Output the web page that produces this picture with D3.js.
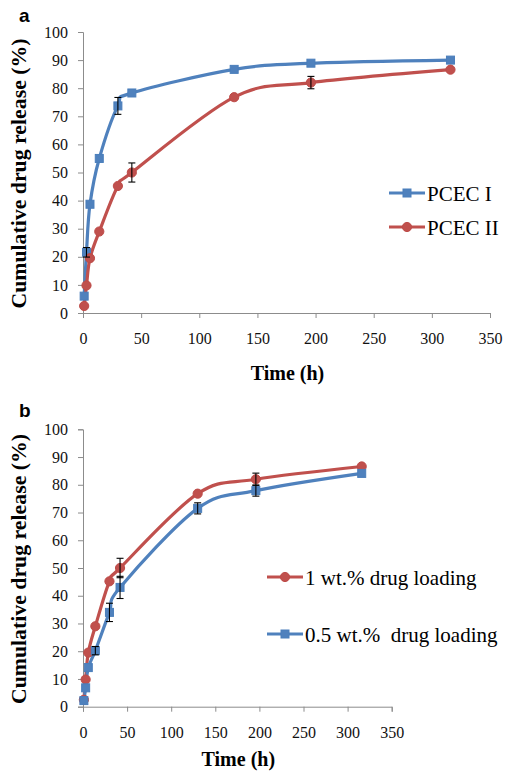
<!DOCTYPE html>
<html>
<head>
<meta charset="utf-8">
<script src="https://cdnjs.cloudflare.com/ajax/libs/d3/7.8.5/d3.min.js"></script>
<style>
  html, body { margin: 0; padding: 0; background: #ffffff; }
  svg { display: block; }
  .serif { font-family: "Liberation Serif", "Times New Roman", Times, "DejaVu Serif", serif; }
  .sans { font-family: "Liberation Sans", Arial, Helvetica, sans-serif; }
</style>
</head>
<body>
<svg id="chart" width="508" height="781"></svg>
<script>
// ---------- data ----------
const timeH = [1, 3, 6, 14, 30, 42, 130, 196, 316];

const pcecI   = [6.0, 21.6, 38.7, 55.0, 73.7, 78.3, 86.7, 88.9, 90.0];
const pcecIErr = [0.5, 1.7, 0.8, 0.8, 3.0, 0.8, 0.8, 0.8, 0.6];

const pcecII   = [2.5, 9.8, 19.5, 29.0, 45.2, 50.0, 76.8, 82.0, 86.6];
const pcecIIErr = [0.5, 0.8, 0.8, 0.8, 0.8, 3.4, 0.8, 2.2, 0.6];

const load1   = [2.5, 9.8, 19.5, 29.0, 45.2, 50.0, 76.8, 82.0, 86.6];
const load1Err = [0.5, 0.8, 0.8, 0.8, 0.8, 3.5, 0.8, 2.2, 0.6];

const load05   = [2.2, 6.8, 14.1, 20.2, 34.0, 43.0, 71.5, 77.9, 84.1];
const load05Err = [0.5, 0.8, 1.0, 1.5, 3.3, 4.0, 2.0, 2.0, 0.6];

const yTicks = [0, 10, 20, 30, 40, 50, 60, 70, 80, 90, 100];
const xTicks = [0, 50, 100, 150, 200, 250, 300, 350];

const BLUE = "#4F81BD", BLUE_EDGE = "#4A7EBB";
const RED = "#C0504D", RED_EDGE = "#BE4B48";

const svg = d3.select("#chart");

function panel(opts) {
  const g = svg.append("g");
  const x = d3.scaleLinear().domain([0, 350]).range([opts.x0, opts.x1]);
  const y = d3.scaleLinear().domain([0, 100]).range([opts.y0, opts.y1]);

  // axes
  const yAxis = d3.axisLeft(y).tickValues(yTicks).tickSize(5).tickPadding(10);
  const xAxis = d3.axisBottom(x).tickValues(xTicks).tickSize(5).tickPadding(15);
  const ya = g.append("g").attr("transform", `translate(${opts.x0},0)`).call(yAxis);
  const xa = g.append("g").attr("transform", `translate(0,${opts.y0})`).call(xAxis);
  [ya, xa].forEach(a => {
    a.attr("font-family", null).attr("font-size", null);
    a.selectAll("path, line").attr("stroke", "#8c8c8c").attr("stroke-width", 1);
    a.selectAll("text").attr("class", "serif").style("font-size", "16px").attr("fill", "#111");
  });

  // series
  const line = d3.line().x((d, i) => x(timeH[i])).y(d => y(d)).curve(d3.curveCardinal.tension(0));
  opts.series.forEach(s => {
    g.append("path").datum(s.values)
      .attr("d", line).attr("fill", "none")
      .attr("stroke", s.color).attr("stroke-width", 3.2)
      .attr("stroke-linejoin", "round");
  });
  // markers
  opts.series.forEach(s => {
    const mg = g.append("g");
    s.values.forEach((v, i) => {
      const cx = x(timeH[i]), cy = y(v);
      if (s.shape === "square") {
        mg.append("rect").attr("x", cx - 4).attr("y", cy - 4).attr("width", 8).attr("height", 8)
          .attr("fill", s.color).attr("stroke", s.edge).attr("stroke-width", 1);
      } else {
        mg.append("circle").attr("cx", cx).attr("cy", cy).attr("r", 4.6)
          .attr("fill", s.color).attr("stroke", s.edge).attr("stroke-width", 1);
      }
    });
  });
  // error bars
  opts.series.forEach(s => {
    const eg = g.append("g").attr("stroke", "#000").attr("stroke-width", 1.1);
    s.values.forEach((v, i) => {
      const e = s.err[i];
      if (e < 1.2) return;
      const cx = x(timeH[i]);
      const yt = y(v + e), yb = y(v - e);
      eg.append("line").attr("x1", cx).attr("x2", cx).attr("y1", yt).attr("y2", yb);
      eg.append("line").attr("x1", cx - 3.5).attr("x2", cx + 3.5).attr("y1", yt).attr("y2", yt);
      eg.append("line").attr("x1", cx - 3.5).attr("x2", cx + 3.5).attr("y1", yb).attr("y2", yb);
    });
  });

  // titles
  g.append("text").attr("class", "serif")
    .attr("transform", `translate(26,${(opts.y0 + opts.y1) / 2 + 1}) rotate(-90)`)
    .attr("text-anchor", "middle")
    .style("font-weight", "bold").style("font-size", "21.8px")
    .text("Cumulative drug release (%)");
  g.append("text").attr("class", "serif")
    .attr("x", (opts.x0 + opts.x1) / 2 + 1).attr("y", opts.titleY)
    .attr("text-anchor", "middle")
    .style("font-weight", "bold").style("font-size", "20px")
    .text("Time (h)");
  g.append("text").attr("class", "sans")
    .attr("x", 19).attr("y", opts.labelY)
    .style("font-weight", "bold").style("font-size", "19px")
    .text(opts.label);

  // legend
  opts.series.forEach((s, k) => {
    const ly = opts.legend[k].y, lx = opts.legend[k].x;
    g.append("line").attr("x1", lx).attr("x2", lx + 36).attr("y1", ly).attr("y2", ly)
      .attr("stroke", s.color).attr("stroke-width", 3.2);
    if (s.shape === "square") {
      g.append("rect").attr("x", lx + 14).attr("y", ly - 4).attr("width", 8).attr("height", 8)
        .attr("fill", s.color).attr("stroke", s.edge);
    } else {
      g.append("circle").attr("cx", lx + 18).attr("cy", ly).attr("r", 4.6)
        .attr("fill", s.color).attr("stroke", s.edge);
    }
    g.append("text").attr("class", "serif").attr("x", lx + 38).attr("y", ly + 7.5)
      .style("font-size", "21px")
      .style("white-space", "pre")
      .text(s.name);
  });
}

panel({
  x0: 83, x1: 490, y0: 313, y1: 32, titleY: 380, labelY: 22, label: "a",
  series: [
    { name: "PCEC I", values: pcecI, err: pcecIErr, color: BLUE, edge: BLUE_EDGE, shape: "square" },
    { name: "PCEC II", values: pcecII, err: pcecIIErr, color: RED, edge: RED_EDGE, shape: "circle" }
  ],
  legend: [{ x: 389, y: 193 }, { x: 389, y: 227 }]
});

panel({
  x0: 83, x1: 391.7, y0: 706.7, y1: 429.3, titleY: 766, labelY: 417, label: "b",
  series: [
    { name: "1 wt.% drug loading", values: load1, err: load1Err, color: RED, edge: RED_EDGE, shape: "circle" },
    { name: "0.5 wt.%  drug loading", values: load05, err: load05Err, color: BLUE, edge: BLUE_EDGE, shape: "square" }
  ],
  legend: [{ x: 267, y: 577 }, { x: 267, y: 634 }]
});
</script>
</body>
</html>
